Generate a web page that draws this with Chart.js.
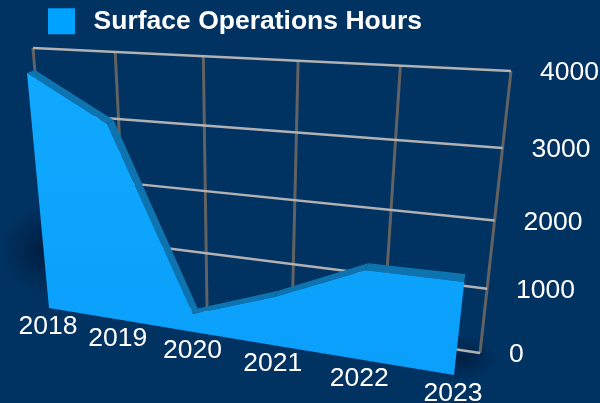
<!DOCTYPE html>
<html>
<head>
<meta charset="utf-8">
<title>Surface Operations Hours</title>
<script src="https://cdn.jsdelivr.net/npm/chart.js@4"></script>
<style>
  html, body { margin: 0; padding: 0; background: #003262; overflow: hidden; }
  canvas { display: block; }
</style>
</head>
<body>
<canvas id="chart" width="600" height="403"></canvas>
<script>
// ---------- DATA ----------
const years = ["2018", "2019", "2020", "2021", "2022", "2023"];
const seriesName = "Surface Operations Hours";
const hours = [4000, 3290, 320, 820, 1440, 1450];
const yTicks = [0, 1000, 2000, 3000, 4000];

// ---------- PERSPECTIVE ----------
// corners of each plane: bottom left, bottom right, top right, top left
const wallPlane = [[53, 289], [480, 353], [511, 71], [33, 48]];
const frontPlane = [[49, 308], [454, 375], [485, 95], [27, 73]];
const backPlane = [[56, 304], [455, 367], [486, 87], [35, 70]];

function homography(c) {
  const [x0, y0] = c[0], [x1, y1] = c[1], [x2, y2] = c[2], [x3, y3] = c[3];
  const dx1 = x1 - x2, dx2 = x3 - x2, sx = x0 - x1 + x2 - x3;
  const dy1 = y1 - y2, dy2 = y3 - y2, sy = y0 - y1 + y2 - y3;
  const det = dx1 * dy2 - dx2 * dy1;
  const g = (sx * dy2 - dx2 * sy) / det;
  const h = (dx1 * sy - sx * dy1) / det;
  return {
    a: x1 - x0 + g * x1, b: x3 - x0 + h * x3, c: x0,
    d: y1 - y0 + g * y1, e: y3 - y0 + h * y3, f: y0, g, h
  };
}

// turns a flat pixel from the chart scales into a pixel on the plane
function project(m, area, px, py) {
  const s = (px - area.left) / area.width;
  const t = (area.bottom - py) / area.height;
  const w = m.g * s + m.h * t + 1;
  return { x: (m.a * s + m.b * t + m.c) / w, y: (m.d * s + m.e * t + m.f) / w };
}

const wallM = homography(wallPlane);
const frontM = homography(frontPlane);
const backM = homography(backPlane);

function segment(ctx, a, b, color, width) {
  ctx.strokeStyle = color;
  ctx.lineWidth = width;
  ctx.beginPath();
  ctx.moveTo(a.x, a.y);
  ctx.lineTo(b.x, b.y);
  ctx.stroke();
}

function shadow(ctx, x, y, rx, ry, alpha) {
  ctx.save();
  ctx.translate(x, y);
  ctx.scale(rx, ry);
  const g = ctx.createRadialGradient(0, 0, 0, 0, 0, 1);
  g.addColorStop(0, "rgba(0,10,30," + alpha + ")");
  g.addColorStop(1, "rgba(0,10,30,0)");
  ctx.fillStyle = g;
  ctx.beginPath();
  ctx.arc(0, 0, 1, 0, Math.PI * 2);
  ctx.fill();
  ctx.restore();
}

const perspectivePlugin = {
  id: "perspective",
  beforeDatasetsDraw(chart) {
    const { ctx, chartArea: area, scales: { x, y } } = chart;
    const points = chart.getDatasetMeta(0).data;
    const base = y.getPixelForValue(0);
    ctx.save();

    shadow(ctx, 44, 250, 42, 42, 0.5);
    shadow(ctx, 462, 358, 34, 22, 0.45);

    // wall grid
    x.ticks.forEach((tick, i) => {
      const px = x.getPixelForTick(i);
      segment(ctx, project(wallM, area, px, area.bottom), project(wallM, area, px, area.top), "#626262", 3);
    });
    y.ticks.forEach(tick => {
      const py = y.getPixelForValue(tick.value);
      segment(ctx, project(wallM, area, area.left, py), project(wallM, area, area.right, py), "#b2b2b2", 2.5);
    });

    // top surface of the area
    ctx.fillStyle = "#0d74af";
    for (let i = 0; i < points.length - 1; i++) {
      const a = project(frontM, area, points[i].x, points[i].y);
      const b = project(frontM, area, points[i + 1].x, points[i + 1].y);
      const c = project(backM, area, points[i + 1].x, points[i + 1].y);
      const d = project(backM, area, points[i].x, points[i].y);
      ctx.beginPath();
      ctx.moveTo(a.x, a.y);
      ctx.lineTo(b.x, b.y);
      ctx.lineTo(c.x, c.y);
      ctx.lineTo(d.x, d.y);
      ctx.closePath();
      ctx.fill();
    }

    // front face of the area
    const fill = ctx.createLinearGradient(0, 70, 0, 380);
    fill.addColorStop(0, "#10a9ff");
    fill.addColorStop(1, "#0a9ffb");
    ctx.fillStyle = fill;
    ctx.beginPath();
    points.forEach((p, i) => {
      const q = project(frontM, area, p.x, p.y);
      if (i === 0) ctx.moveTo(q.x, q.y); else ctx.lineTo(q.x, q.y);
    });
    for (let i = points.length - 1; i >= 0; i--) {
      const q = project(frontM, area, points[i].x, base);
      ctx.lineTo(q.x, q.y);
    }
    ctx.closePath();
    ctx.fill();

    // tick labels stay flat, only their position follows the plane
    ctx.fillStyle = "#ffffff";
    ctx.font = "26.5px 'Liberation Sans', Arial, sans-serif";
    ctx.textBaseline = "middle";
    ctx.textAlign = "left";
    y.ticks.forEach(tick => {
      const q = project(wallM, area, area.right, y.getPixelForValue(tick.value));
      ctx.fillText(tick.label, q.x + 29, q.y + 2);
    });
    ctx.textAlign = "center";
    x.ticks.forEach((tick, i) => {
      const q = project(frontM, area, x.getPixelForTick(i), base);
      ctx.fillText(tick.label, q.x - 1, q.y + 19);
    });
    ctx.restore();
  }
};

// ---------- CHART ----------
new Chart(document.getElementById("chart"), {
  type: "line",
  data: {
    labels: years,
    datasets: [{
      label: seriesName,
      data: hours,
      backgroundColor: "#00a2ff",
      borderWidth: 0,
      pointRadius: 0,
      showLine: false
    }]
  },
  options: {
    responsive: false,
    animation: false,
    layout: { padding: { left: 40, top: 0 } },
    plugins: {
      tooltip: { enabled: false },
      legend: {
        align: "start",
        labels: {
          boxWidth: 27,
          boxHeight: 26,
          padding: 8,
          color: "#ffffff",
          font: { family: "'Liberation Sans', Arial, sans-serif", size: 26.5, weight: "bold" },
          generateLabels: chart => [{
            text: "\u2009" + seriesName,
            fillStyle: chart.data.datasets[0].backgroundColor,
            strokeStyle: "transparent",
            lineWidth: 0,
            fontColor: "#ffffff",
            datasetIndex: 0
          }]
        }
      }
    },
    scales: {
      x: { display: false, offset: false },
      y: {
        display: false,
        min: 0,
        max: 4000,
        ticks: { callback: v => String(v) },
        afterBuildTicks: axis => { axis.ticks = yTicks.map(v => ({ value: v })); }
      }
    }
  },
  plugins: [perspectivePlugin]
});
</script>
</body>
</html>
